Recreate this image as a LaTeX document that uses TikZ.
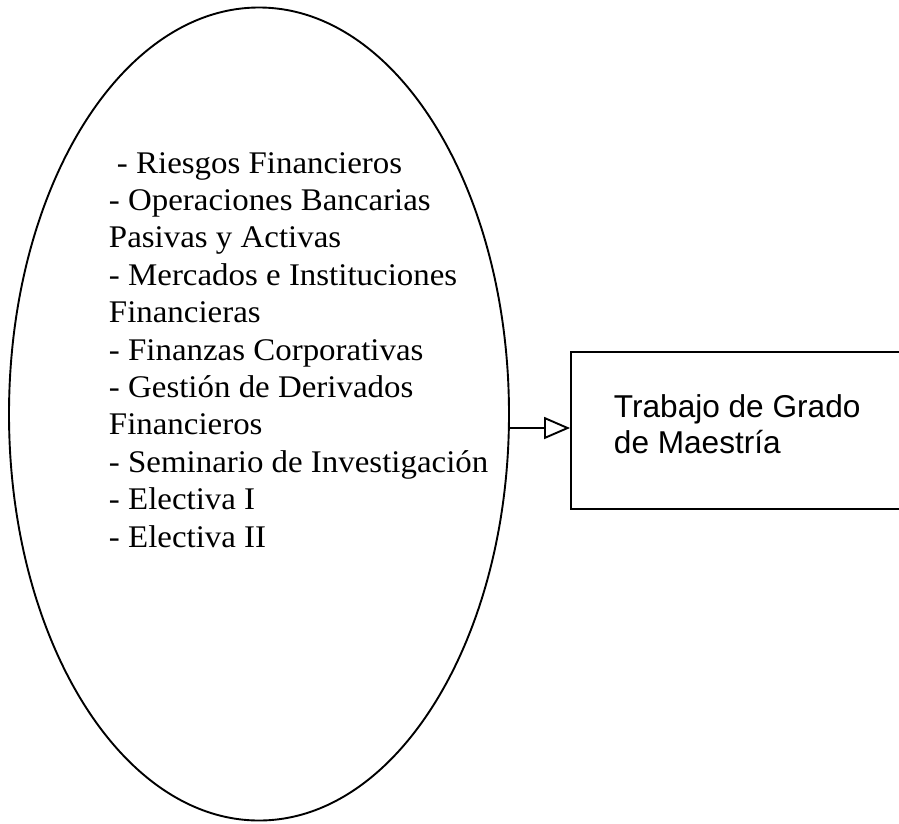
\documentclass[tikz,border=0pt]{standalone}
\usepackage{fontspec}
\setmainfont{Liberation Serif}[FakeStretch=1.045]
\newfontfamily\boxfont{Liberation Sans}
\usetikzlibrary{shapes.geometric,arrows.meta}
\begin{document}
\begin{tikzpicture}[x=1pt,y=-1pt,
  line width=1.9pt,
  itemtext/.style={anchor=base west,inner sep=0pt,font=\fontsize{31.5}{37}\selectfont},
  boxtext/.style={anchor=base west,inner sep=0pt,font=\boxfont\fontsize{31.6}{36}\selectfont},
  arr/.style={-{Triangle[open,length=26pt,width=22pt,line width=1.9pt]}}]
\useasboundingbox (0,0) rectangle (899,823);
\node[ellipse,draw,minimum width=500pt,minimum height=813pt,inner sep=0pt] (ell) at (259,414) {};
\node[draw,rectangle,minimum width=336pt,minimum height=157pt,inner sep=0pt] (box) at (739,430.5) {};
\node[boxtext] (b1) at (613,417) {Trabajo de Grado};
\node[boxtext] (b2) at (613,453) {de Maestría};
\node[itemtext] (l1) at (116,173) {- Riesgos Financieros};
\node[itemtext] (l2) at (108,210.4) {- Operaciones Bancarias};
\node[itemtext] (l3) at (108,247.8) {Pasivas y Activas};
\node[itemtext] (l4) at (108,285.2) {- Mercados e Instituciones};
\node[itemtext] (l5) at (108,322.6) {Financieras};
\node[itemtext] (l6) at (108,360) {- Finanzas Corporativas};
\node[itemtext] (l7) at (108,397.4) {- Gestión de Derivados};
\node[itemtext] (l8) at (108,434.8) {Financieros};
\node[itemtext] (l9) at (108,472.2) {- Seminario de Investigación};
\node[itemtext] (l10) at (108,509.6) {- Electiva I};
\node[itemtext] (l11) at (108,547) {- Electiva II};
\coordinate (a) at (510,428);
\draw[arr] (a) -- (box.west |- a);
\end{tikzpicture}
\end{document}
